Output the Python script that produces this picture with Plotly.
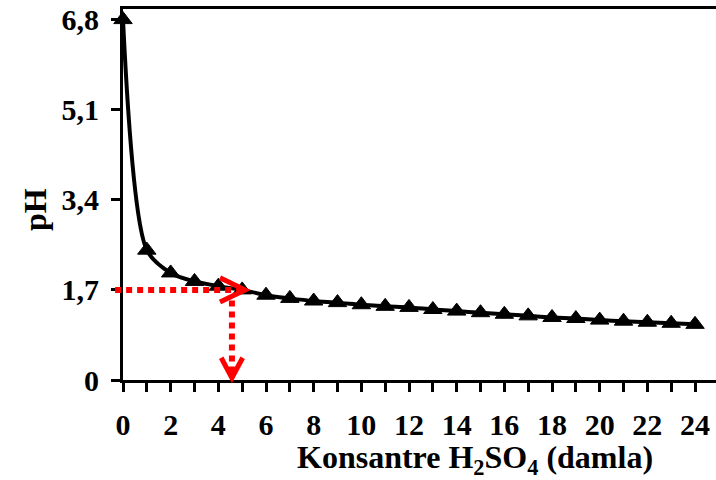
import plotly.graph_objects as go

# ---- data ----
drops = list(range(0, 25))
ph = [6.80, 2.45, 2.02, 1.86, 1.77, 1.70, 1.60, 1.54, 1.49, 1.46, 1.42, 1.39, 1.37,
      1.33, 1.30, 1.27, 1.24, 1.21, 1.18, 1.16, 1.13, 1.11, 1.09, 1.07, 1.05]
y_tickvals = [0, 1.7, 3.4, 5.1, 6.8]
y_ticktext = ["0", "1,7", "3,4", "5,1", "6,8"]
x_tickvals = list(range(0, 25, 2))
x_ticktext = [str(v) for v in x_tickvals]
x_title = "Konsantre H<sub>2</sub>SO<sub>4</sub> (damla)"
y_title = "pH"

# reading guide (data units)
guide_ph = 1.7
guide_x_start = -0.33
guide_x_end = 4.95
guide_drop = 4.57
guide_v_top = 1.5
guide_v_bottom = 0.1

# ---- layout geometry ----
W, H = 716, 480
ML, MR, MT, MB = 123, 0, 9, 100
XR = [0, 24.88]
YR = [0, 7.0]
FONT = "Liberation Serif"
FS_TITLE = 32
FS_TICK = 30
PLOT_H = H - MT - MB
PLOT_W = W - ML - MR


def px(x):
    return (x - XR[0]) / (XR[1] - XR[0])


def py(y):
    return (y - YR[0]) / (YR[1] - YR[0])


fig = go.Figure()
fig.add_trace(go.Scatter(
    x=drops, y=ph, mode="lines+markers",
    line=dict(color="black", width=4, shape="spline", smoothing=0.8),
    marker=dict(symbol="triangle-up", size=16, color="black",
                line=dict(color="black", width=1)),
    showlegend=False, cliponaxis=False,
))

red = "#ff0000"
dot = dict(color=red, width=6, dash="6px,5px")
shapes = []
shapes.append(dict(type="line", xref="paper", yref="paper",
                   x0=px(guide_x_start), x1=px(guide_x_end),
                   y0=py(guide_ph), y1=py(guide_ph), line=dot))
tip_x = guide_x_end + 0.17
arm_dx = 1.05
arm_dy = 0.23
shapes.append(dict(type="path", xref="paper", yref="paper",
                   path=f"M {px(tip_x - arm_dx)} {py(guide_ph + arm_dy)} L {px(tip_x)} {py(guide_ph)} L {px(tip_x - arm_dx)} {py(guide_ph - arm_dy)}",
                   line=dict(color=red, width=5)))
shapes.append(dict(type="line", xref="paper", yref="paper",
                   x0=px(guide_drop), x1=px(guide_drop),
                   y0=py(guide_v_top), y1=py(guide_v_bottom), line=dot))
tip_y = 0.04
v_dx = 0.45
v_dy = 0.38
shapes.append(dict(type="path", xref="paper", yref="paper",
                   path=f"M {px(guide_drop - v_dx)} {py(tip_y + v_dy)} L {px(guide_drop)} {py(tip_y)} L {px(guide_drop + v_dx)} {py(tip_y + v_dy)}",
                   line=dict(color=red, width=5)))

fig.update_layout(
    width=W, height=H,
    margin=dict(l=ML, r=MR, t=MT, b=MB, pad=0),
    paper_bgcolor="white", plot_bgcolor="white",
    font=dict(family=FONT, size=FS_TICK, color="black"),
    shapes=shapes,
    annotations=[
        dict(text="<b>" + x_title + "</b>", xref="paper", yref="paper",
             x=(475 - ML) / PLOT_W, y=-(459 - (H - MB)) / PLOT_H,
             xanchor="center", yanchor="middle", showarrow=False,
             font=dict(family=FONT, size=FS_TITLE, color="black")),
        dict(text="<b>" + y_title + "</b>", xref="paper", yref="paper",
             x=-(ML - 35) / PLOT_W, y=(H - MB - 210) / PLOT_H,
             xanchor="center", yanchor="middle", textangle=-90, showarrow=False,
             font=dict(family=FONT, size=FS_TITLE, color="black")),
    ],
    xaxis=dict(
        range=XR, showgrid=False, zeroline=False,
        showline=True, linecolor="black", linewidth=3, mirror=True,
        ticks="outside", ticklen=9, tickwidth=3, tickcolor="black",
        tickvals=x_tickvals, ticktext=["<b>" + t + "</b>" for t in x_ticktext],
        minor=dict(dtick=1, tick0=0, ticks="outside", ticklen=9, tickwidth=3, tickcolor="black"),
        ticklabelstandoff=7,
        tickfont=dict(family=FONT, size=FS_TICK, color="black"),
    ),
    yaxis=dict(
        range=YR, showgrid=False, zeroline=False,
        showline=True, linecolor="black", linewidth=3,
        ticks="outside", ticklen=9, tickwidth=3, tickcolor="black",
        tickvals=y_tickvals, ticktext=["<b>" + t + "</b>" for t in y_ticktext],
        ticklabelstandoff=6,
        tickfont=dict(family=FONT, size=FS_TICK, color="black"),
    ),
)

fig.write_html("out.html")
